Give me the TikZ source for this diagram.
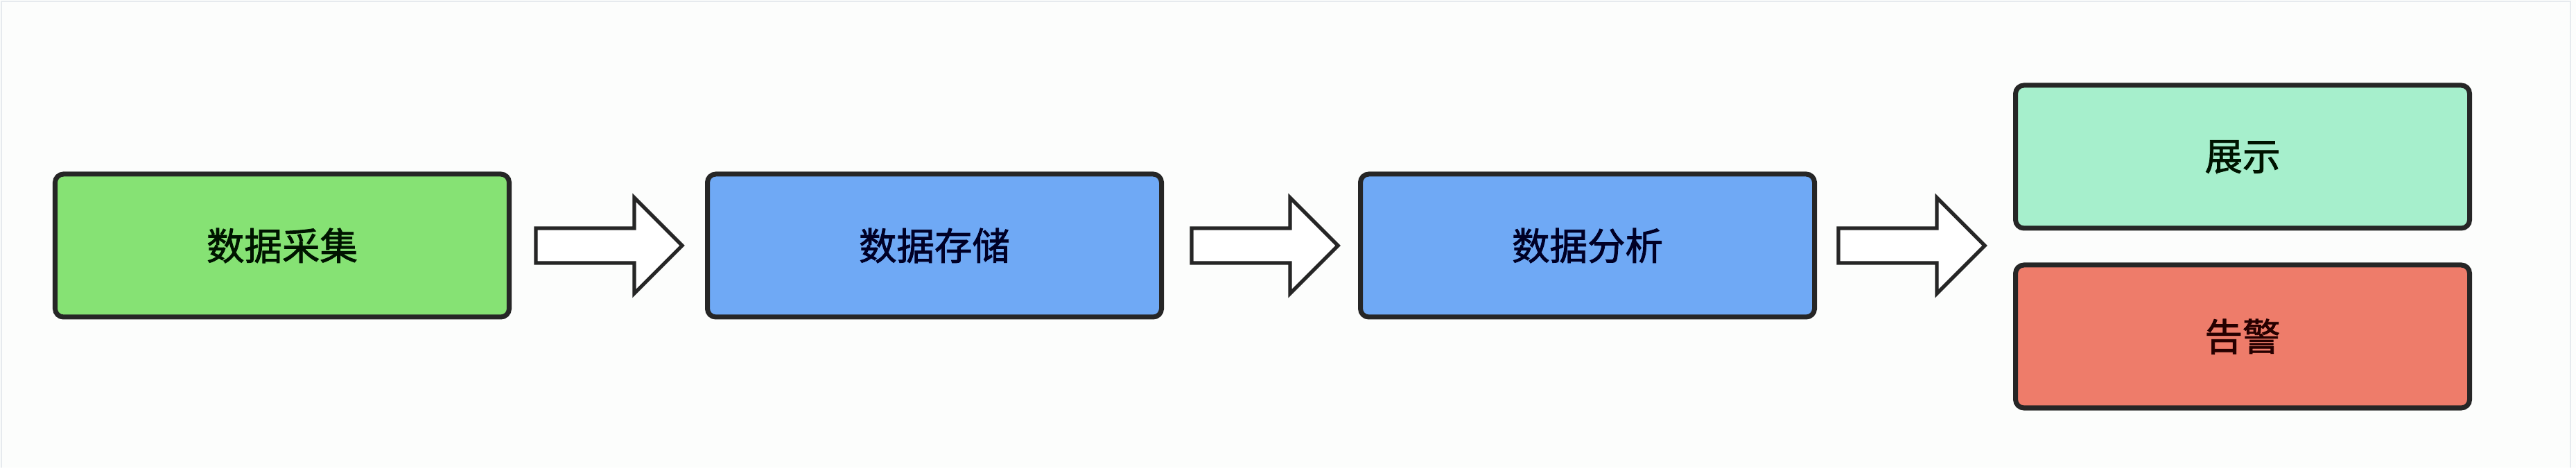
\documentclass[tikz,border=0pt]{standalone}
\usepackage{fontspec}
\usepackage{tikz}
\usetikzlibrary{calc}
\newfontfamily\cjk[FakeBold=1.6]{Noto Sans CJK SC}
\definecolor{bggray}{HTML}{FCFDFC}
\definecolor{framegray}{HTML}{E6EAEE}
\definecolor{collectgreen}{HTML}{86E274}
\definecolor{storeblue}{HTML}{6FA9F5}
\definecolor{showteal}{HTML}{A6EFCC}
\definecolor{alarmred}{HTML}{EE7C6A}

\begin{document}
\begin{tikzpicture}[
  stage/.style={draw=black!85, line width=2pt, rounded corners=0.12cm,
    minimum width=6.55cm, minimum height=2.06cm,
    font=\cjk\fontsize{15.5pt}{18pt}\selectfont, text=black!90},
  fatarrow/.style={draw=black!85, fill=white, line width=1.5pt, line join=miter}
]
\fill[bggray] (0,0) rectangle (37.16,6.74);
\draw[framegray, line width=0.6pt] (0.02,0) -- (0.02,6.72) -- (37.08,6.72) -- (37.08,0);
\useasboundingbox (0,0) rectangle (37.16,6.74);

\node[stage, fill=collectgreen, text=black!80!green!40!black] (collect) at (4.07,3.20) {数据采集};
\node[stage, fill=storeblue, text=black!85!blue] (store) at (13.48,3.20) {数据存储};
\node[stage, fill=storeblue, text=black!85!blue] (analyse) at (22.90,3.20) {数据分析};

\node[stage, fill=showteal, text=black!80!green!40!black] (show) at (32.35,4.48) {展示};
\node[stage, fill=alarmred, text=black!85!red] (alarm) at (32.35,1.89) {告警};

% block arrows between the stages
\draw[fatarrow] ($(collect.east)+(0.35,0.25)$) -- ++(1.42,0) -- ++(0,0.44) -- ++(0.69,-0.69)
  -- ++(-0.69,-0.69) -- ++(0,0.44) -- ++(-1.42,0) -- cycle;
\draw[fatarrow] ($(store.east)+(0.40,0.25)$) -- ++(1.42,0) -- ++(0,0.44) -- ++(0.69,-0.69)
  -- ++(-0.69,-0.69) -- ++(0,0.44) -- ++(-1.42,0) -- cycle;
\draw[fatarrow] ($(analyse.east)+(0.31,0.25)$) -- ++(1.42,0) -- ++(0,0.44) -- ++(0.69,-0.69)
  -- ++(-0.69,-0.69) -- ++(0,0.44) -- ++(-1.42,0) -- cycle;
\end{tikzpicture}
\end{document}
